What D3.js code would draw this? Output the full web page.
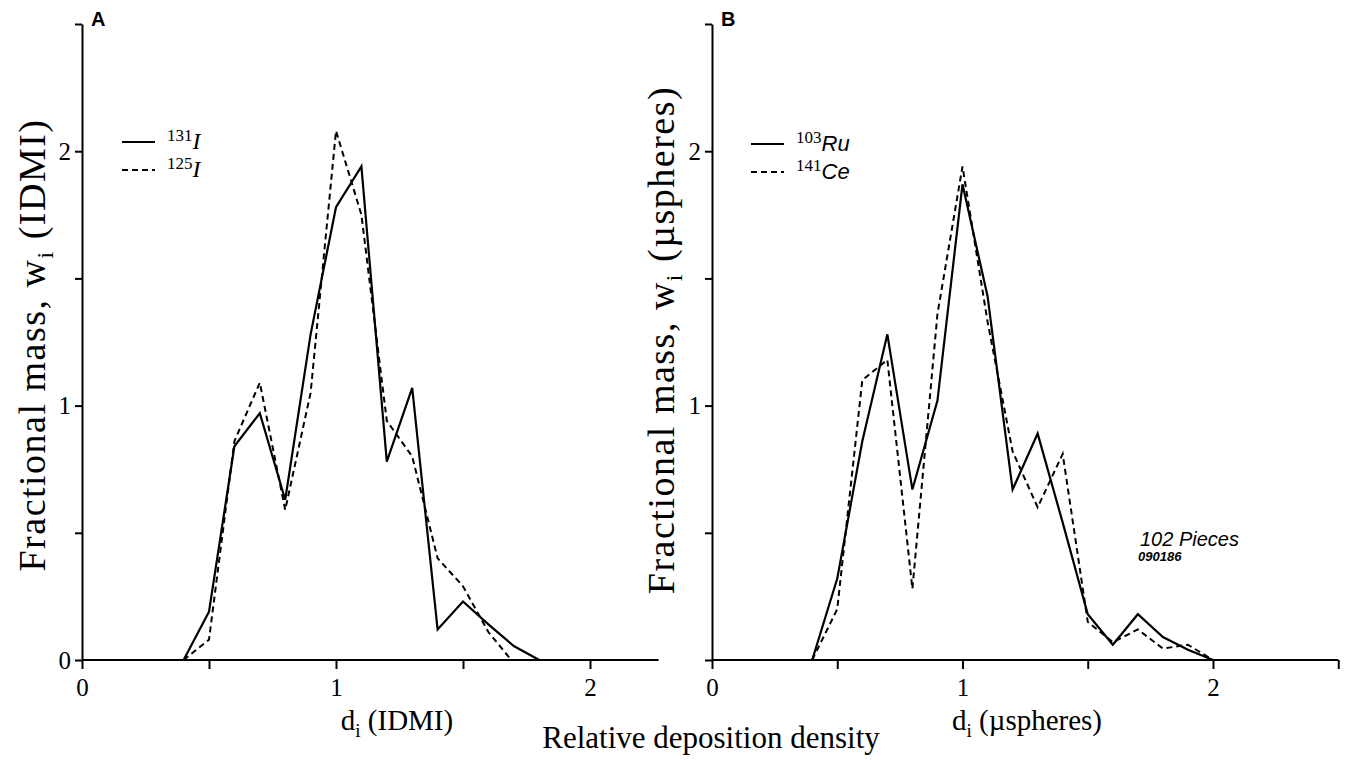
<!DOCTYPE html>
<html>
<head>
<meta charset="utf-8">
<script src="https://cdn.jsdelivr.net/npm/d3@7"></script>
<style>
  body { margin: 0; background: #fff; }
  .tick text { font-family: "Liberation Serif", serif; font-size: 25px; fill: #000; }
  .tick line, .domain { stroke: #000; stroke-width: 2px; }
  .solid_line { fill: none; stroke: #000; stroke-width: 2.2px; stroke-linejoin: miter; }
  .dash_line { fill: none; stroke: #000; stroke-width: 2px; stroke-dasharray: 6,4; }
  .serif { font-family: "Liberation Serif", serif; fill: #000; }
  .sans { font-family: "Liberation Sans", Arial, sans-serif; fill: #000; }
</style>
</head>
<body>
<svg></svg>
<script>
let svgWidth = 1352;
let svgHeight = 760;

// relative deposition density bins (shared by all series)
let dA = [0.4, 0.5, 0.6, 0.7, 0.8, 0.9, 1.0, 1.1, 1.2, 1.3, 1.4, 1.5, 1.6, 1.7, 1.8];
let i131 = [0, 0.19, 0.84, 0.97, 0.63, 1.28, 1.78, 1.94, 0.78, 1.07, 0.12, 0.23, 0.14, 0.055, 0];
let dA2 = [0.4, 0.5, 0.6, 0.7, 0.8, 0.9, 1.0, 1.1, 1.2, 1.3, 1.4, 1.5, 1.6, 1.69];
let i125 = [0, 0.08, 0.86, 1.09, 0.59, 1.05, 2.08, 1.75, 0.94, 0.80, 0.40, 0.29, 0.11, 0];

let dB = [0.4, 0.5, 0.6, 0.7, 0.8, 0.9, 1.0, 1.1, 1.2, 1.3, 1.4, 1.5, 1.6, 1.7, 1.8, 1.9, 2.0];
let ru103 = [0, 0.32, 0.86, 1.28, 0.67, 1.02, 1.87, 1.43, 0.67, 0.89, 0.54, 0.18, 0.06, 0.18, 0.09, 0.04, 0];
let ce141 = [0, 0.20, 1.10, 1.18, 0.28, 1.36, 1.94, 1.33, 0.82, 0.60, 0.81, 0.15, 0.07, 0.12, 0.045, 0.06, 0];

let xTicks = [0, 0.5, 1, 1.5, 2];
let yTicks = [0, 0.5, 1, 1.5, 2, 2.5];

let svg = d3.select('svg').attr('width', svgWidth).attr('height', svgHeight);
svg.append('rect').attr('width', svgWidth).attr('height', svgHeight).attr('fill', '#fff');

function make_panel(opt){
    let xScale = d3.scaleLinear().domain([0, 2]).range([opt.left, opt.left + opt.unit2]);
    let yScale = d3.scaleLinear().domain([0, 2.5]).range([660, 24]);
    let g = svg.append('g');

    let x_axis = d3.axisBottom(xScale)
        .tickValues(opt.xTicks)
        .tickSizeInner(9)
        .tickSizeOuter(0)
        .tickPadding(9)
        .tickFormat(d => Number.isInteger(d) ? d : '');
    let xg = g.append('g').attr('transform', 'translate(0,' + yScale(0) + ')').call(x_axis);
    xg.select('.domain').attr('d', 'M' + xScale(0) + ',0H' + xScale(opt.xEnd));

    let y_axis = d3.axisLeft(yScale)
        .tickValues(yTicks)
        .tickSizeInner(7)
        .tickSizeOuter(0)
        .tickPadding(4)
        .tickFormat(d => (!Number.isInteger(d) || (d === 0 && !opt.zeroLabel)) ? '' : d);
    g.append('g').attr('transform', 'translate(' + xScale(0) + ',0)').call(y_axis);

    let line = d3.line().x(d => xScale(d[0])).y(d => yScale(d[1])).curve(d3.curveLinear);
    g.append('path').attr('class', 'solid_line').attr('d', line(d3.zip(opt.xs1, opt.s1)));
    g.append('path').attr('class', 'dash_line').attr('d', line(d3.zip(opt.xs2, opt.s2)));

    g.append('text').attr('class', 'sans').attr('x', xScale(0) + 9).attr('y', 26)
        .attr('font-size', 20).attr('font-weight', 'bold').text(opt.letter);

    // y label
    let yl = g.append('text').attr('class', 'serif').attr('font-size', 38)
        .attr('letter-spacing', 1.5)
        .attr('text-anchor', 'middle')
        .attr('transform', 'translate(' + opt.ylabX + ',' + opt.ylabY + ') rotate(-90)');
    yl.append('tspan').text('Fractional mass, w');
    yl.append('tspan').attr('font-size', 24).attr('dy', 8).text('i');
    yl.append('tspan').attr('dy', -8).text(' ' + opt.unitText);

    // x label
    let xl = g.append('text').attr('class', 'serif').attr('font-size', 29)
        .attr('text-anchor', 'middle').attr('x', opt.xlabX).attr('y', 730);
    xl.append('tspan').text('d');
    xl.append('tspan').attr('font-size', 19).attr('dy', 7).text('i');
    xl.append('tspan').attr('dy', -7).text(' ' + opt.unitText);

    // legend
    let lx = opt.legX;
    [[opt.leg1, 'solid_line', opt.legY], [opt.leg2, 'dash_line', opt.legY + 28]].forEach(function(e){
        g.append('line').attr('class', e[1]).attr('x1', lx).attr('x2', lx + 33)
            .attr('y1', e[2]).attr('y2', e[2]);
        let t = g.append('text').attr('x', lx + 45).attr('y', e[2] + 7);
        t.append('tspan').attr('class', 'serif').attr('font-size', 17).attr('dy', -8).text(e[0][0]);
        t.append('tspan').attr('class', opt.legFont).attr('font-style', 'italic')
            .attr('font-size', opt.legSize).attr('dy', 8).text(e[0][1]);
    });
}

make_panel({
    letter: 'A', left: 82, unit2: 508, xEnd: 2.27, xTicks: xTicks, zeroLabel: true,
    xs1: dA, s1: i131, xs2: dA2, s2: i125,
    ylabX: 45, ylabY: 345, xlabX: 397, unitText: '(IDMI)',
    legX: 122, legY: 142, leg1: ['131', 'I'], leg2: ['125', 'I'], legFont: 'serif', legSize: 24
});

make_panel({
    letter: 'B', left: 712, unit2: 501, xEnd: 2.5, xTicks: xTicks.concat([2.5]), zeroLabel: false,
    xs1: dB, s1: ru103, xs2: dB, s2: ce141,
    ylabX: 674, ylabY: 340, xlabX: 1027, unitText: '(\u00b5spheres)',
    legX: 751, legY: 144, leg1: ['103', 'Ru'], leg2: ['141', 'Ce'], legFont: 'sans', legSize: 22
});

svg.append('text').attr('class', 'serif').attr('font-size', 31).attr('text-anchor', 'middle')
    .attr('x', 711).attr('y', 748).text('Relative deposition density');

svg.append('text').attr('class', 'sans').attr('font-style', 'italic').attr('font-size', 20)
    .attr('x', 1140).attr('y', 546).text('102 Pieces');
svg.append('text').attr('class', 'sans').attr('font-style', 'italic').attr('font-weight', 'bold')
    .attr('font-size', 13).attr('x', 1138).attr('y', 561).text('090186');
</script>
</body>
</html>
